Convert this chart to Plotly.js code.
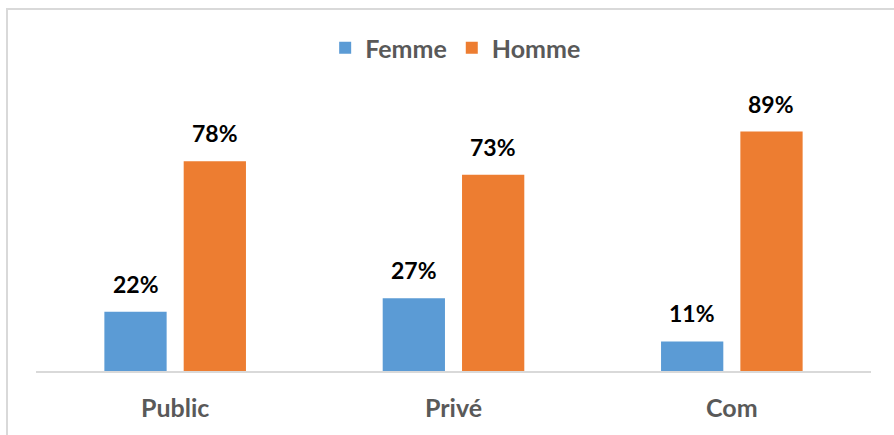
<!DOCTYPE html>
<html>
<head>
<meta charset="utf-8">
<script src="https://cdn.plot.ly/plotly-3.0.1.min.js"></script>
<style>
  html, body { margin: 0; padding: 0; background: #fff; }
  #wrap { position: relative; width: 894px; height: 435px; overflow: hidden; }
  #chart { width: 894px; height: 435px; }
  #frame { position: absolute; left: 6px; top: 8px; width: 920px; height: 460px;
           border: 2px solid #d9d9d9; pointer-events: none; box-sizing: border-box; }
</style>
</head>
<body>
<div id="wrap">
  <div id="chart"></div>
  <div id="frame"></div>
</div>
<script>
const categories = ["Public", "Privé", "Com"];
const femme = [22, 27, 11];
const homme = [78, 73, 89];
const seriesNames = ["Femme", "Homme"];
const colors = ["#5b9bd5", "#ed7d31"];

const W = 894, H = 435;
const margin = {l: 36, r: 23, t: 102, b: 64};
const bargap = 0.43;
const plotW = W - margin.l - margin.r;
const slot = plotW / categories.length * (1 - bargap) / 2;
const FONT = "Lato, 'Open Sans', sans-serif";

const traces = [femme, homme].map((vals, i) => ({
  type: "bar",
  name: seriesNames[i],
  x: categories,
  y: vals,
  marker: {color: colors[i]},
  hoverinfo: "skip"
}));

const annotations = [];
[femme, homme].forEach((vals, i) => {
  vals.forEach((v, j) => {
    annotations.push({
      x: categories[j], y: v, xref: "x", yref: "y",
      text: v + "%", showarrow: false,
      yanchor: "bottom", yshift: 12,
      xshift: (i === 0 ? -1 : 1) * slot / 2,
      font: {family: FONT, size: 23, color: "#000", weight: 700}
    });
  });
});

const layout = {
  width: W, height: H,
  margin: margin,
  paper_bgcolor: "#fff", plot_bgcolor: "#fff",
  barmode: "group",
  bargap: bargap,
  bargroupgap: 0.215,
  showlegend: true,
  legend: {
    orientation: "h", x: 0.5097, xanchor: "center", xref: "container",
    y: 1 - 48 / H, yref: "container", yanchor: "middle",
    font: {family: FONT, size: 25, color: "#595959", weight: 700},
    itemwidth: 30, traceorder: "normal"
  },
  xaxis: {
    type: "category",
    showline: true, linecolor: "#d9d9d9", linewidth: 2,
    ticks: "", showgrid: false, zeroline: false,
    tickfont: {family: FONT, size: 25, color: "#595959", weight: 700},
    ticklabelstandoff: 14
  },
  yaxis: {
    range: [0, 100], visible: false, showgrid: false, zeroline: false
  },
  annotations: annotations
};

Plotly.newPlot("chart", traces, layout, {displayModeBar: false, staticPlot: true});
</script>
</body>
</html>
